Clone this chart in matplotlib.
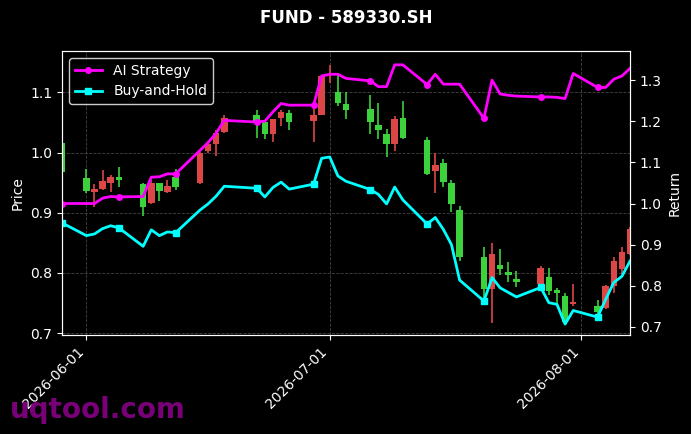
import matplotlib
matplotlib.use("Agg")
import matplotlib.pyplot as plt
import matplotlib.dates as mdates
import numpy as np
import pandas as pd

dates = ["2026-05-29",
         "2026-06-01", "2026-06-02", "2026-06-03", "2026-06-04", "2026-06-05",
         "2026-06-08", "2026-06-09", "2026-06-10", "2026-06-11", "2026-06-12",
         "2026-06-15", "2026-06-16", "2026-06-17", "2026-06-18",
         "2026-06-22", "2026-06-23", "2026-06-24", "2026-06-25", "2026-06-26",
         "2026-06-29", "2026-06-30", "2026-07-01", "2026-07-02", "2026-07-03",
         "2026-07-06", "2026-07-07", "2026-07-08", "2026-07-09", "2026-07-10",
         "2026-07-13", "2026-07-14", "2026-07-15", "2026-07-16", "2026-07-17",
         "2026-07-20", "2026-07-21", "2026-07-22", "2026-07-23", "2026-07-24",
         "2026-07-27", "2026-07-28", "2026-07-29", "2026-07-30", "2026-07-31",
         "2026-08-03", "2026-08-04", "2026-08-05", "2026-08-06", "2026-08-07"]

open_ = [1.015,
         0.958, 0.934, 0.940, 0.949, 0.960,
         0.948, 0.917, 0.949, 0.934, 0.959,
         0.950, 1.003, 1.014, 1.034,
         1.062, 1.051, 1.030, 1.057, 1.066,
         1.052, 1.063, 1.128, 1.100, 1.080,
         1.072, 1.046, 1.030, 1.014, 1.058,
         1.020, 0.969, 0.982, 0.950, 0.904,
         0.827, 0.774, 0.814, 0.802, 0.790,
         0.782, 0.794, 0.771, 0.761, 0.748,
         0.745, 0.742, 0.778, 0.807, 0.832]
high = [1.017,
        0.973, 0.948, 0.971, 0.963, 0.976,
        0.950, 0.955, 0.950, 0.954, 0.973,
        1.001, 1.017, 1.037, 1.063,
        1.070, 1.053, 1.056, 1.070, 1.070,
        1.076, 1.128, 1.146, 1.131, 1.101,
        1.096, 1.083, 1.039, 1.061, 1.085,
        1.025, 0.999, 0.990, 0.955, 0.912,
        0.843, 0.849, 0.839, 0.818, 0.803,
        0.812, 0.808, 0.775, 0.766, 0.781,
        0.755, 0.780, 0.826, 0.843, 0.876]
low = [0.965,
       0.932, 0.910, 0.937, 0.934, 0.943,
       0.895, 0.915, 0.920, 0.932, 0.938,
       0.948, 0.999, 0.995, 1.033,
       1.024, 1.022, 1.017, 1.044, 1.037,
       1.018, 1.062, 1.115, 1.078, 1.056,
       1.031, 1.023, 0.992, 1.003, 1.022,
       0.962, 0.932, 0.942, 0.901, 0.820,
       0.748, 0.717, 0.797, 0.785, 0.777,
       0.779, 0.764, 0.745, 0.714, 0.745,
       0.732, 0.740, 0.766, 0.799, 0.830]
close = [0.967,
         0.936, 0.940, 0.953, 0.960, 0.955,
         0.909, 0.950, 0.936, 0.945, 0.943,
         0.999, 1.014, 1.033, 1.058,
         1.053, 1.031, 1.055, 1.068, 1.051,
         1.063, 1.127, 1.130, 1.083, 1.070,
         1.050, 1.037, 1.014, 1.056, 1.024,
         0.964, 0.980, 0.951, 0.914, 0.826,
         0.774, 0.832, 0.807, 0.796, 0.785,
         0.808, 0.770, 0.766, 0.718, 0.751,
         0.735, 0.778, 0.820, 0.835, 0.873]

ai_strategy = [1.000,
               1.000, 1.000, 1.013, 1.017, 1.016,
               1.017, 1.064, 1.065, 1.072, 1.072,
               1.129, 1.148, 1.171, 1.202,
               1.198, 1.200, 1.223, 1.243, 1.239,
               1.239, 1.310, 1.314, 1.314, 1.304,
               1.298, 1.284, 1.284, 1.337, 1.337,
               1.289, 1.314, 1.290, 1.290, 1.290,
               1.207, 1.300, 1.266, 1.263, 1.261,
               1.259, 1.259, 1.258, 1.255, 1.316,
               1.282, 1.282, 1.302, 1.310, 1.328]
buy_hold = [0.953,
            0.922, 0.926, 0.939, 0.946, 0.941,
            0.896, 0.936, 0.922, 0.931, 0.929,
            0.984, 0.999, 1.018, 1.042,
            1.037, 1.016, 1.039, 1.052, 1.035,
            1.047, 1.110, 1.113, 1.067, 1.054,
            1.034, 1.022, 0.999, 1.040, 1.009,
            0.950, 0.966, 0.937, 0.900, 0.814,
            0.763, 0.820, 0.795, 0.784, 0.773,
            0.796, 0.759, 0.755, 0.707, 0.740,
            0.724, 0.767, 0.808, 0.823, 0.860]

title = "FUND - 589330.SH"
watermark = "uqtool.com"

UP = "#dc4646"
DOWN = "#3cd23c"

x = mdates.date2num(pd.to_datetime(dates))
o = np.array(open_); h = np.array(high); l = np.array(low); c = np.array(close)
up = c >= o
colors = np.where(up, UP, DOWN)

fig = plt.figure(figsize=(6.91, 4.34), dpi=100, facecolor="black")
ax = fig.add_axes([62/691, 1-335/434, (630-62)/691, (335-51)/434])
ax.set_facecolor("black")

ax.vlines(x, l, h, colors=colors, linewidth=1.2, zorder=2)
body_bottom = np.minimum(o, c)
body_h = np.maximum(np.abs(c - o), 0.002)
ax.bar(x, body_h, bottom=body_bottom, width=0.8, color=colors, zorder=3)

ax.set_xlim(x[0], x[-1])
ax.set_ylim(0.697, 1.1686)
ax.set_yticks([0.7, 0.8, 0.9, 1.0, 1.1])
ax.set_ylabel("Price", color="white", fontsize=10)
ax.grid(True, color="#555555", linestyle="--", linewidth=0.6, alpha=0.8)
ax.set_axisbelow(True)
ax.xaxis.set_major_locator(mdates.MonthLocator())
ax.xaxis.set_major_formatter(mdates.DateFormatter("%Y-%m-%d"))
for lab in ax.get_xticklabels():
    lab.set_rotation(45)
    lab.set_ha("right")
ax.tick_params(colors="white", labelsize=10)
for sp in ax.spines.values():
    sp.set_color("white")

ax2 = ax.twinx()
ax2.plot(x, ai_strategy, color="#ff00ff", linewidth=2, marker="o",
         markersize=4, markevery=5, label="AI Strategy")
ax2.plot(x, buy_hold, color="#00ffff", linewidth=2, marker="s",
         markersize=4, markevery=5, label="Buy-and-Hold")
ax2.set_ylim(0.6805, 1.3706)
ax2.set_yticks([0.7, 0.8, 0.9, 1.0, 1.1, 1.2, 1.3])
ax2.set_ylabel("Return", color="white", fontsize=10)
ax2.tick_params(colors="white", labelsize=10)
for sp in ax2.spines.values():
    sp.set_color("white")
leg = ax2.legend(loc="upper left", facecolor="black", edgecolor="white",
                 fontsize=10, framealpha=0.8)
for t in leg.get_texts():
    t.set_color("white")

fig.text(346/691, 1-18/434, title, color="white", fontsize=12,
         fontweight="bold", ha="center", va="center")
fig.text(10/691, 1-418/434, watermark, color="#880088", fontsize=20,
         fontweight="bold", ha="left", va="baseline", alpha=0.9)

fig.savefig("out.png", dpi=100, facecolor="black")
